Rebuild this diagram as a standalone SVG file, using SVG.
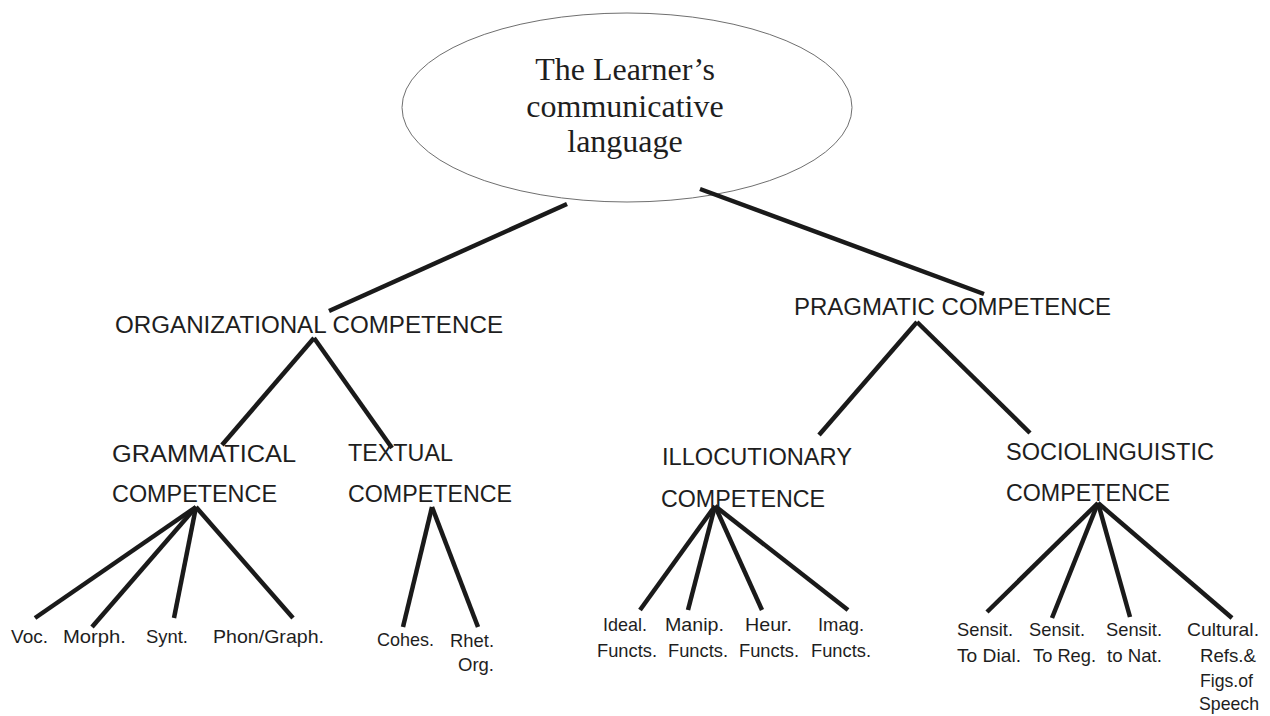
<svg xmlns="http://www.w3.org/2000/svg" width="1270" height="716" viewBox="0 0 1270 716">
<style>
.big{font-family:"Liberation Sans",Arial,sans-serif;font-size:23.5px;fill:#1e1e1e}
.sm{font-family:"Liberation Sans",Arial,sans-serif;font-size:19px;fill:#1e1e1e}
.title{font-family:"Liberation Serif","Times New Roman",serif;font-size:32px;fill:#1e1e1e;text-anchor:middle}
.conn line{stroke:#1a1a1a;stroke-width:4.5;stroke-linecap:butt}
</style>
<rect width="1270" height="716" fill="#ffffff"/>
<g id="root">
<ellipse cx="627" cy="107.5" rx="225" ry="94.5" fill="#ffffff" stroke="#6f6f6f" stroke-width="1"/>
<text class="title" x="625" y="80">The Learner’s</text>
<text class="title" x="625" y="117">communicative</text>
<text class="title" x="625" y="152">language</text>
</g>
<g class="conn" id="connectors">
<line x1="567" y1="204" x2="329" y2="311"/>
<line x1="700" y1="189" x2="984" y2="294"/>
<line x1="314" y1="338" x2="222" y2="445"/>
<line x1="314" y1="338" x2="392" y2="448"/>
<line x1="917" y1="322" x2="819" y2="435"/>
<line x1="917" y1="322" x2="1030" y2="433"/>
<line x1="196" y1="507" x2="35" y2="618"/>
<line x1="196" y1="507" x2="92" y2="627"/>
<line x1="196" y1="507" x2="174" y2="618"/>
<line x1="196" y1="507" x2="293" y2="618"/>
<line x1="432" y1="507" x2="403" y2="627"/>
<line x1="432" y1="507" x2="478" y2="627"/>
<line x1="715" y1="506" x2="640" y2="610"/>
<line x1="715" y1="506" x2="688" y2="610"/>
<line x1="715" y1="506" x2="762" y2="610"/>
<line x1="715" y1="506" x2="848" y2="610"/>
<line x1="1098" y1="503" x2="987" y2="612"/>
<line x1="1098" y1="503" x2="1052" y2="618"/>
<line x1="1098" y1="503" x2="1130" y2="617"/>
<line x1="1098" y1="503" x2="1232" y2="618"/>
</g>
<g id="organizational"><text class="big" x="115" y="333" textLength="388" lengthAdjust="spacingAndGlyphs">ORGANIZATIONAL COMPETENCE</text></g>
<g id="pragmatic"><text class="big" x="794" y="315" textLength="317" lengthAdjust="spacingAndGlyphs">PRAGMATIC COMPETENCE</text></g>
<g id="grammatical">
<text class="big" x="112" y="462" textLength="184" lengthAdjust="spacingAndGlyphs">GRAMMATICAL</text>
<text class="big" x="112" y="502" textLength="165" lengthAdjust="spacingAndGlyphs">COMPETENCE</text>
</g>
<g id="textual">
<text class="big" x="348" y="461" textLength="105" lengthAdjust="spacingAndGlyphs">TEXTUAL</text>
<text class="big" x="348" y="502" textLength="164" lengthAdjust="spacingAndGlyphs">COMPETENCE</text>
</g>
<g id="illocutionary">
<text class="big" x="662" y="465" textLength="190" lengthAdjust="spacingAndGlyphs">ILLOCUTIONARY</text>
<text class="big" x="661" y="507" textLength="164" lengthAdjust="spacingAndGlyphs">COMPETENCE</text>
</g>
<g id="sociolinguistic">
<text class="big" x="1006" y="460" textLength="208" lengthAdjust="spacingAndGlyphs">SOCIOLINGUISTIC</text>
<text class="big" x="1006" y="501" textLength="164" lengthAdjust="spacingAndGlyphs">COMPETENCE</text>
</g>
<g id="voc"><text class="sm" x="11" y="643" textLength="37" lengthAdjust="spacingAndGlyphs">Voc.</text></g>
<g id="morph"><text class="sm" x="63" y="643" textLength="63" lengthAdjust="spacingAndGlyphs">Morph.</text></g>
<g id="synt"><text class="sm" x="146" y="643" textLength="42" lengthAdjust="spacingAndGlyphs">Synt.</text></g>
<g id="phon"><text class="sm" x="213" y="643" textLength="111" lengthAdjust="spacingAndGlyphs">Phon/Graph.</text></g>
<g id="cohes"><text class="sm" x="377" y="646" textLength="57" lengthAdjust="spacingAndGlyphs">Cohes.</text></g>
<g id="rhet">
<text class="sm" x="450" y="647" textLength="44" lengthAdjust="spacingAndGlyphs">Rhet.</text>
<text class="sm" x="458" y="671" textLength="36" lengthAdjust="spacingAndGlyphs">Org.</text>
</g>
<g id="ideal">
<text class="sm" x="603" y="631" textLength="44" lengthAdjust="spacingAndGlyphs">Ideal.</text>
<text class="sm" x="597" y="657" textLength="60" lengthAdjust="spacingAndGlyphs">Functs.</text>
</g>
<g id="manip">
<text class="sm" x="665" y="631" textLength="59" lengthAdjust="spacingAndGlyphs">Manip.</text>
<text class="sm" x="668" y="657" textLength="60" lengthAdjust="spacingAndGlyphs">Functs.</text>
</g>
<g id="heur">
<text class="sm" x="745" y="631" textLength="47" lengthAdjust="spacingAndGlyphs">Heur.</text>
<text class="sm" x="739" y="657" textLength="60" lengthAdjust="spacingAndGlyphs">Functs.</text>
</g>
<g id="imag">
<text class="sm" x="818" y="631" textLength="46" lengthAdjust="spacingAndGlyphs">Imag.</text>
<text class="sm" x="811" y="657" textLength="60" lengthAdjust="spacingAndGlyphs">Functs.</text>
</g>
<g id="dial">
<text class="sm" x="957" y="636" textLength="56" lengthAdjust="spacingAndGlyphs">Sensit.</text>
<text class="sm" x="957" y="662" textLength="64" lengthAdjust="spacingAndGlyphs">To Dial.</text>
</g>
<g id="reg">
<text class="sm" x="1029" y="636" textLength="56" lengthAdjust="spacingAndGlyphs">Sensit.</text>
<text class="sm" x="1033" y="662" textLength="63" lengthAdjust="spacingAndGlyphs">To Reg.</text>
</g>
<g id="nat">
<text class="sm" x="1106" y="636" textLength="56" lengthAdjust="spacingAndGlyphs">Sensit.</text>
<text class="sm" x="1107" y="662" textLength="55" lengthAdjust="spacingAndGlyphs">to Nat.</text>
</g>
<g id="cultural">
<text class="sm" x="1187" y="636" textLength="72" lengthAdjust="spacingAndGlyphs">Cultural.</text>
<text class="sm" x="1200" y="662" textLength="56" lengthAdjust="spacingAndGlyphs">Refs.&amp;</text>
<text class="sm" x="1200" y="687" textLength="53" lengthAdjust="spacingAndGlyphs">Figs.of</text>
<text class="sm" x="1199" y="710" textLength="60" lengthAdjust="spacingAndGlyphs">Speech</text>
</g>
</svg>
